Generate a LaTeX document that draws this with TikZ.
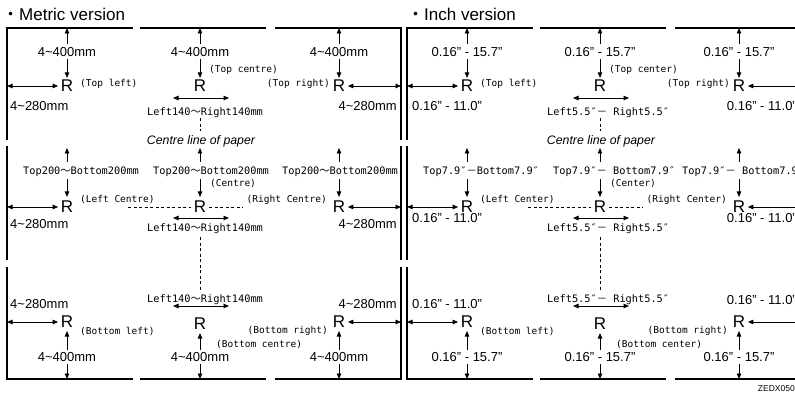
\documentclass[tikz,border=0pt]{standalone}
\usepackage{fontspec}
\setmainfont{Liberation Sans}
\newfontfamily\monof{DejaVu Sans Mono}
\newfontfamily\cjkf{Noto Sans CJK JP}
\usetikzlibrary{arrows.meta}
\newcommand\wv{{\cjkf ～}}
\newcommand\fw{{\cjkf －}}
\tikzset{
  bd/.style={line width=1.7pt},
  dm/.style={line width=0.8pt,->},
  dd/.style={line width=0.8pt,<->},
  cl/.style={line width=0.7pt,dash pattern=on 3pt off 2.5pt},
  dl/.style={inner sep=0pt,font=\fontsize{13}{13}\selectfont},
  rl/.style={inner sep=0pt,font=\fontsize{17}{17}\selectfont},
  pl/.style={inner sep=0pt,font=\monof\fontsize{9.5}{9.5}\selectfont},
  ml/.style={inner sep=0pt,font=\monof\fontsize{10.3}{10.3}\selectfont},
  tt/.style={inner sep=0pt,anchor=base west,font=\fontsize{17}{17}\selectfont}
}
\newcommand\panelbody{%
\draw[bd] (7,140) -- (7,28) -- (133,28);
\draw[bd] (140,28) -- (266,28);
\draw[bd] (275,28) -- (401,28) -- (401,140);
\draw[bd] (7,146) -- (7,260);
\draw[bd] (401,146) -- (401,260);
\draw[bd] (7,267) -- (7,379) -- (133,379);
\draw[bd] (140,379) -- (266,379);
\draw[bd] (275,379) -- (401,379) -- (401,267);
\coordinate (t1) at (67,28); \coordinate (t2) at (200,28); \coordinate (t3) at (339,28);
\coordinate (b1) at (67,379); \coordinate (b2) at (200,379); \coordinate (b3) at (339,379);
\coordinate (l1) at (7,86); \coordinate (l2) at (7,207); \coordinate (l3) at (7,322);
\coordinate (r1) at (401,86); \coordinate (r2) at (401,207); \coordinate (r3) at (401,322);
% top row
\node[rl] (Rtl) at (67,86) {R};
\node[rl] (Rtc) at (200,86) {R};
\node[rl] (Rtr) at (339,86) {R};
\node[dl] (vtl) at (67,52) {\Tv};
\node[dl] (vtc) at (200,52) {\Tv};
\node[dl] (vtr) at (339,52) {\Tv};
\draw[dm,shorten <=3pt] (vtl.north) -- (t1);
\draw[dm,shorten <=2pt,shorten >=2pt] (vtl.south) -- (Rtl.north);
\draw[dm,shorten <=3pt] (vtc.north) -- (t2);
\draw[dm,shorten <=2pt,shorten >=2pt] (vtc.south) -- (Rtc.north);
\draw[dm,shorten <=3pt] (vtr.north) -- (t3);
\draw[dm,shorten <=2pt,shorten >=2pt] (vtr.south) -- (Rtr.north);
\draw[dd,shorten >=2.5pt] (l1) -- (Rtl.west);
\node[dl,anchor=west] (htl) at (\xL,106) {\Th};
\node[pl,anchor=west] (ptl) at (80,84) {\Ptl};
\node[pl,anchor=west] (ptc) at (209,70) {\Ptc};
\coordinate (ha1) at (173,98); \coordinate (hb1) at (229,98);
\draw[dd] (ha1) -- (hb1);
\node[ml,anchor=west] (lr1) at (147,113) {\Mlr};
\coordinate (cla) at (200,131);
\draw[cl] (lr1.south -| Rtc) -- (cla);
\node[pl,anchor=east] (ptr) at (330,84) {\Ptr};
\draw[dd,shorten <=2.5pt] (Rtr.east) -- (r1);
\node[dl,anchor=east] (htr) at (397,106) {\Th};
% middle row
\node[inner sep=0pt,font=\itshape\fontsize{12.3}{12.3}\selectfont] (cln) at (201,141) {Centre line of paper};
\node[rl] (Rml) at (67,207) {R};
\node[rl] (Rc) at (200,207) {R};
\node[rl] (Rmr) at (339,207) {R};
\coordinate (u1) at (67,148); \coordinate (u2) at (200,148); \coordinate (u3) at (339,148);
\node[ml,anchor=west] (tbl) at (23,172) {\Mtbl};
\node[ml,anchor=west] (tbc) at (153,172) {\Mtb};
\node[ml,anchor=west] (tbr) at (282,172) {\Mtb};
\draw[dm,shorten <=5pt] (tbl.north -| Rml) -- (u1);
\draw[dm,shorten <=2pt,shorten >=4pt] (tbl.south -| Rml) -- (Rml.north);
\draw[dm,shorten <=5pt] (tbc.north -| Rc) -- (u2);
\draw[dm,shorten <=2pt,shorten >=4pt] (tbc.south -| Rc) -- (Rc.north);
\draw[dm,shorten <=5pt] (tbr.north -| Rmr) -- (u3);
\draw[dm,shorten <=2pt,shorten >=4pt] (tbr.south -| Rmr) -- (Rmr.north);
\node[pl,anchor=west] (pml) at (80,200) {\Pml};
\node[pl,anchor=west] (pc) at (210,184) {\Pc};
\node[pl,anchor=east] (pmr) at (327,200) {\Pmr};
\draw[dd,shorten >=2.5pt] (l2) -- (Rml.west);
\draw[dd,shorten <=2.5pt] (Rmr.east) -- (r2);
\node[dl,anchor=west] (hml) at (\xL,\yML) {\Th};
\node[dl,anchor=east] (hmr) at (397,\yML) {\Th};
\coordinate (dla) at (128,207); \coordinate (dlb) at (243,207);
\draw[cl,shorten >=3pt] (dla) -- (Rc.west);
\draw[cl,shorten <=3pt] (Rc.east) -- (dlb);
\coordinate (ha2) at (173,218); \coordinate (hb2) at (229,218);
\draw[dd] (ha2) -- (hb2);
\node[ml,anchor=west] (lr2) at (147,229) {\Mlr};
\coordinate (clb) at (200,292);
\draw[cl,shorten <=3pt] (lr2.south -| Rc) -- (clb);
% bottom row
\node[rl] (Rbl) at (67,322) {R};
\node[rl] (Rbc) at (200,324) {R};
\node[rl] (Rbr) at (339,322) {R};
\node[dl,anchor=west] (hbl) at (\xL,304) {\Th};
\node[dl,anchor=east] (hbr) at (397,\yBR) {\Th};
\draw[dd,shorten >=2.5pt] (l3) -- (Rbl.west);
\draw[dd,shorten <=2.5pt] (Rbr.east) -- (r3);
\node[pl,anchor=west] (pbl) at (80,331) {\Pbl};
\node[pl,anchor=west] (pbc) at (216,345) {\Pbc};
\node[pl,anchor=east] (pbr) at (328,331) {\Pbr};
\node[ml,anchor=west] (lr3) at (147,300) {\Mlr};
\coordinate (ha3) at (173,306); \coordinate (hb3) at (229,306);
\draw[dd] (ha3) -- (hb3);
\node[dl] (vbl) at (67,357) {\Tv};
\node[dl] (vbc) at (200,357) {\Tv};
\node[dl] (vbr) at (339,357) {\Tv};
\draw[dm,shorten <=2pt,shorten >=3pt] (vbl.north) -- (Rbl.south);
\draw[dm,shorten <=2pt] (vbl.south) -- (b1);
\draw[dm,shorten <=2pt,shorten >=3pt] (vbc.north) -- (Rbc.south);
\draw[dm,shorten <=2pt] (vbc.south) -- (b2);
\draw[dm,shorten <=2pt,shorten >=3pt] (vbr.north) -- (Rbr.south);
\draw[dm,shorten <=2pt] (vbr.south) -- (b3);
}
\begin{document}
\begin{tikzpicture}[x=1pt,y=-1pt,>={Triangle[length=5.5pt,width=4.5pt]}]
\useasboundingbox (0,0) rectangle (795,395);
\clip (0,0) rectangle (795,395);
\node[tt] (tm) at (2,21) {{\cjkf ・}Metric version};
\node[tt] (ti) at (407,21) {{\cjkf ・}Inch version};
\node[inner sep=0pt,anchor=east,font=\fontsize{8.5}{8.5}\selectfont] (zd) at (795,389) {ZEDX050};
\begin{scope}[name prefix=m-]
\def\Tv{4\textasciitilde400mm}
\def\Th{4\textasciitilde280mm}
\def\Ptl{(Top left)}
\def\Ptc{(Top centre)}
\def\Ptr{(Top right)}
\def\Pml{(Left Centre)}
\def\Pc{(Centre)}
\def\Pmr{(Right Centre)}
\def\Pbl{(Bottom left)}
\def\Pbc{(Bottom centre)}
\def\Pbr{(Bottom right)}
\def\Mlr{Left140\wv Right140mm}
\def\Mtbl{Top200\wv Bottom200mm}
\def\Mtb{Top200\wv Bottom200mm}
\def\xL{10}\def\yML{224}\def\yBR{304}
\panelbody
\end{scope}
\begin{scope}[name prefix=i-,xshift=400pt]
\def\Tv{0.16" - 15.7"}
\def\Th{0.16" - 11.0"}
\def\Ptl{(Top left)}
\def\Ptc{(Top center)}
\def\Ptr{(Top right)}
\def\Pml{(Left Center)}
\def\Pc{(Center)}
\def\Pmr{(Right Center)}
\def\Pbl{(Bottom left)}
\def\Pbc{(Bottom center)}
\def\Pbr{(Bottom right)}
\def\Mlr{Left5.5″\fw\ Right5.5″}
\def\Mtbl{Top7.9″\fw Bottom7.9″}
\def\Mtb{Top7.9″\fw\ Bottom7.9″}
\def\xL{12}\def\yML{218}\def\yBR{300}
\panelbody
\end{scope}
\end{tikzpicture}
\end{document}
